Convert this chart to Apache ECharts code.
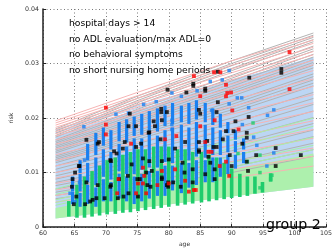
<!DOCTYPE html>
<html>
<head>
<meta charset="utf-8">
<script src="https://cdn.jsdelivr.net/npm/echarts@6/dist/echarts.min.js"></script>
<style>
html, body { margin: 0; padding: 0; background: #fff; }
#main { width: 335px; height: 252px; }
</style>
</head>
<body>
<div id="main"></div>
<script>
// ages at which every risk curve is read
var curveAges = [62, 75, 90, 103];

// filled bundles (lower / upper edge at curveAges)
var bundleLo = [0.0016, 0.0034, 0.0056, 0.0074];
var blueHi = [0.0168, 0.0215, 0.0268, 0.0312];
var greenHi = [0.0035, 0.0065, 0.0105, 0.0135];

// individual curves, values at curveAges
var pinkCurves = [
  [0.0195, 0.0247, 0.0305, 0.0350],
  [0.0191, 0.0241, 0.0297, 0.0343],
  [0.0187, 0.0236, 0.0290, 0.0337],
  [0.0183, 0.0230, 0.0283, 0.0330],
  [0.0179, 0.0225, 0.0276, 0.0322],
  [0.0175, 0.0220, 0.0270, 0.0316],
  [0.0171, 0.0214, 0.0262, 0.0306],
  [0.0167, 0.0208, 0.0255, 0.0298],
  [0.0160, 0.0200, 0.0245, 0.0287],
  [0.0152, 0.0190, 0.0233, 0.0272],
  [0.0143, 0.0180, 0.0221, 0.0258],
  [0.0133, 0.0168, 0.0207, 0.0243],
  [0.0122, 0.0156, 0.0193, 0.0228],
  [0.0112, 0.0144, 0.0180, 0.0212],
  [0.0100, 0.0130, 0.0164, 0.0195],
  [0.0090, 0.0118, 0.0150, 0.0179],
  [0.0080, 0.0106, 0.0136, 0.0163],
  [0.0068, 0.0092, 0.0120, 0.0145],
  [0.0058, 0.0080, 0.0106, 0.0130],
  [0.0046, 0.0066, 0.0090, 0.0112]
];
var grayCurves = [
  [0.0180, 0.0240, 0.0305, 0.0356],
  [0.0176, 0.0236, 0.0300, 0.0352],
  [0.0172, 0.0232, 0.0296, 0.0348],
  [0.0168, 0.0228, 0.0291, 0.0344],
  [0.0165, 0.0224, 0.0287, 0.0340],
  [0.0160, 0.0216, 0.0278, 0.0332],
  [0.0157, 0.0212, 0.0273, 0.0327],
  [0.0154, 0.0208, 0.0268, 0.0323],
  [0.0151, 0.0204, 0.0263, 0.0317],
  [0.0148, 0.0200, 0.0258, 0.0312],
  [0.0145, 0.0196, 0.0253, 0.0307],
  [0.0142, 0.0193, 0.0249, 0.0302],
  [0.0139, 0.0189, 0.0245, 0.0297],
  [0.0136, 0.0185, 0.0240, 0.0292],
  [0.0130, 0.0177, 0.0230, 0.0281],
  [0.0127, 0.0173, 0.0225, 0.0276],
  [0.0124, 0.0169, 0.0220, 0.0270],
  [0.0121, 0.0165, 0.0215, 0.0264],
  [0.0118, 0.0161, 0.0210, 0.0259],
  [0.0112, 0.0153, 0.0200, 0.0247],
  [0.0106, 0.0145, 0.0190, 0.0236],
  [0.0100, 0.0137, 0.0180, 0.0225],
  [0.0094, 0.0129, 0.0170, 0.0213],
  [0.0088, 0.0121, 0.0160, 0.0201],
  [0.0082, 0.0113, 0.0150, 0.0190],
  [0.0076, 0.0105, 0.0140, 0.0178],
  [0.0070, 0.0097, 0.0130, 0.0166],
  [0.0064, 0.0089, 0.0120, 0.0154],
  [0.0058, 0.0081, 0.0110, 0.0142],
  [0.0052, 0.0073, 0.0100, 0.0130]
];
var blueCurves = [
  [0.0178, 0.0222, 0.0270, 0.0305],
  [0.0173, 0.0218, 0.0268, 0.0310]
];
var greenCurves = [
  [0.0050, 0.0085, 0.0130, 0.0165],
  [0.0060, 0.0095, 0.0145, 0.0185],
  [0.0045, 0.0078, 0.0118, 0.0150],
  [0.0070, 0.0110, 0.0160, 0.0200],
  [0.0040, 0.0072, 0.0110, 0.0142]
];

// columns of stacked points: [age, lowest, highest]
var greenColumns = [
  [64.1, 0.0022, 0.0045], [65.4, 0.0020, 0.0075], [66.6, 0.0020, 0.0090],
  [67.8, 0.0022, 0.0100], [69.0, 0.0024, 0.0110], [70.2, 0.0026, 0.0120],
  [71.5, 0.0027, 0.0125], [72.7, 0.0029, 0.0130], [73.9, 0.0030, 0.0135],
  [75.1, 0.0032, 0.0140], [76.3, 0.0034, 0.0140], [77.6, 0.0036, 0.0145],
  [78.8, 0.0038, 0.0145], [80.0, 0.0040, 0.0145], [81.4, 0.0042, 0.0140],
  [82.6, 0.0044, 0.0140], [83.8, 0.0046, 0.0135], [85.2, 0.0048, 0.0135],
  [86.4, 0.0050, 0.0130], [87.6, 0.0052, 0.0125], [88.8, 0.0054, 0.0115],
  [90.0, 0.0056, 0.0105], [91.3, 0.0058, 0.0095], [92.5, 0.0060, 0.0090],
  [93.7, 0.0064, 0.0090], [94.9, 0.0066, 0.0080], [96.2, 0.0086, 0.0096]
];
var blueColumns = [
  [64.7, 0.0045, 0.0062], [64.7, 0.0068, 0.0080], [64.7, 0.0084, 0.0090],
  [65.9, 0.0040, 0.0060], [65.9, 0.0068, 0.0095], [65.9, 0.0102, 0.0120],
  [67.1, 0.0045, 0.0075], [67.1, 0.0085, 0.0115], [67.1, 0.0125, 0.0150],
  [68.4, 0.0040, 0.0070], [68.4, 0.0080, 0.0125], [68.4, 0.0135, 0.0170],
  [69.6, 0.0050, 0.0085], [69.6, 0.0095, 0.0140], [69.6, 0.0152, 0.0180],
  [70.8, 0.0050, 0.0080], [70.8, 0.0090, 0.0135], [70.8, 0.0145, 0.0175],
  [72.1, 0.0055, 0.0095], [72.1, 0.0105, 0.0150], [72.1, 0.0160, 0.0190],
  [73.3, 0.0050, 0.0090], [73.3, 0.0100, 0.0145], [73.3, 0.0158, 0.0195],
  [74.5, 0.0045, 0.0090], [74.5, 0.0100, 0.0160], [74.5, 0.0170, 0.0200],
  [75.7, 0.0050, 0.0095], [75.7, 0.0108, 0.0160], [75.7, 0.0172, 0.0205],
  [76.9, 0.0055, 0.0100], [76.9, 0.0112, 0.0170], [76.9, 0.0180, 0.0210],
  [78.2, 0.0060, 0.0100], [78.2, 0.0112, 0.0165], [78.2, 0.0178, 0.0215],
  [79.4, 0.0060, 0.0110], [79.4, 0.0122, 0.0175], [79.4, 0.0188, 0.0220],
  [80.6, 0.0070, 0.0110], [80.6, 0.0120, 0.0180], [80.6, 0.0192, 0.0225],
  [82.0, 0.0065, 0.0115], [82.0, 0.0125, 0.0185], [82.0, 0.0195, 0.0220],
  [83.2, 0.0075, 0.0115], [83.2, 0.0125, 0.0180], [83.2, 0.0192, 0.0225],
  [84.4, 0.0080, 0.0120], [84.4, 0.0132, 0.0190], [84.4, 0.0200, 0.0230],
  [85.8, 0.0085, 0.0120], [85.8, 0.0130, 0.0185], [85.8, 0.0195, 0.0225],
  [87.0, 0.0085, 0.0125], [87.0, 0.0135, 0.0180], [87.0, 0.0190, 0.0215],
  [88.2, 0.0095, 0.0125], [88.2, 0.0135, 0.0175], [88.2, 0.0185, 0.0205],
  [89.4, 0.0100, 0.0130], [89.4, 0.0140, 0.0165], [89.4, 0.0175, 0.0190],
  [90.6, 0.0110, 0.0130], [90.6, 0.0140, 0.0155], [90.6, 0.0163, 0.0175],
  [91.9, 0.0120, 0.0135], [91.9, 0.0145, 0.0160]
];

// single points: [age, risk]
var greenPoints = [
  [93.4, 0.0191], [94.5, 0.0132], [96.4, 0.0095], [94.5, 0.0100], [96.2, 0.0088],
  [94.5, 0.0072], [92.5, 0.0120], [91.0, 0.0135]
];
var bluePoints = [
  [89.6, 0.0287], [80.5, 0.0246], [86.6, 0.0267], [90.9, 0.0237], [91.6, 0.0237],
  [96.7, 0.0215], [92.7, 0.0219], [71.6, 0.0207], [73.6, 0.0209], [66.5, 0.0184],
  [95.7, 0.0205], [96.7, 0.0136], [95.6, 0.0112], [91.7, 0.0188], [80.5, 0.0196],
  [80.5, 0.0188], [80.5, 0.0179], [86.8, 0.0214], [89.6, 0.0226], [64.3, 0.0062],
  [65.1, 0.0047], [65.8, 0.0082], [66.6, 0.0123], [82.0, 0.0240], [84.5, 0.0250],
  [88.5, 0.0270], [93.5, 0.0165], [94.0, 0.0150], [76.0, 0.0225], [78.0, 0.0230]
];
var blackPoints = [
  [68.7, 0.0153], [64.7, 0.0088], [64.9, 0.0042], [67.5, 0.0047], [66.7, 0.0042],
  [71.3, 0.0139], [70.8, 0.0121], [72.1, 0.0088], [73.6, 0.0185], [74.8, 0.0185],
  [76.9, 0.0174], [78.7, 0.0161], [74.1, 0.0115], [75.4, 0.0088], [76.9, 0.0121],
  [69.8, 0.0053], [68.5, 0.0053], [70.8, 0.0077], [79.9, 0.0082], [79.9, 0.0074],
  [78.9, 0.0091], [77.1, 0.0074], [75.1, 0.0056], [72.8, 0.0056], [65.3, 0.0056],
  [64.6, 0.0074], [65.1, 0.0100], [65.7, 0.0112], [66.9, 0.0082], [67.9, 0.0050],
  [68.7, 0.0077], [70.7, 0.0123], [70.7, 0.0074], [71.7, 0.0135], [71.9, 0.0053],
  [73.0, 0.0156], [73.5, 0.0094], [73.6, 0.0062], [75.0, 0.0088], [75.6, 0.0153],
  [75.9, 0.0126], [76.4, 0.0100], [76.6, 0.0077], [78.9, 0.0121], [78.9, 0.0088],
  [80.0, 0.0124], [81.0, 0.0144], [82.5, 0.0100], [83.8, 0.0106], [83.8, 0.0082],
  [84.8, 0.0138], [84.8, 0.0156], [86.1, 0.0158], [86.6, 0.0118], [87.3, 0.0088],
  [87.6, 0.0147], [88.6, 0.0161], [81.9, 0.0074], [79.7, 0.0077], [77.3, 0.0103],
  [82.6, 0.0156], [84.8, 0.0141], [86.3, 0.0129], [87.1, 0.0147], [89.1, 0.0176],
  [90.3, 0.0176], [92.4, 0.0173], [92.4, 0.0164], [91.7, 0.0153], [92.4, 0.0120],
  [92.6, 0.0103], [90.0, 0.0112], [89.7, 0.0132], [87.3, 0.0106], [80.7, 0.0082],
  [82.2, 0.0118], [85.8, 0.0097], [97.0, 0.0112], [101.0, 0.0132], [97.0, 0.0145],
  [93.9, 0.0132], [97.9, 0.0290], [97.9, 0.0283], [92.8, 0.0274], [87.8, 0.0285],
  [83.9, 0.0263], [83.9, 0.0259], [79.8, 0.0252], [82.8, 0.0247], [85.8, 0.0254],
  [85.8, 0.0250], [87.8, 0.0229], [90.6, 0.0194], [92.7, 0.0202], [78.8, 0.0217],
  [78.8, 0.0211], [84.8, 0.0215], [85.0, 0.0208], [87.6, 0.0211], [78.9, 0.0196],
  [79.7, 0.0211], [73.8, 0.0208], [77.6, 0.0194], [66.9, 0.0160], [68.9, 0.0156],
  [76.8, 0.0173], [77.8, 0.0185], [74.8, 0.0147], [72.7, 0.0144], [65.8, 0.0112]
];
var redPoints = [
  [84.0, 0.0277], [99.2, 0.0321], [99.2, 0.0253], [88.2, 0.0284], [87.2, 0.0284],
  [85.0, 0.0240], [89.1, 0.0261], [89.3, 0.0246], [89.9, 0.0247], [90.1, 0.0214],
  [70.0, 0.0219], [70.0, 0.0188], [87.3, 0.0196], [89.1, 0.0240], [70.0, 0.0170],
  [74.0, 0.0153], [72.0, 0.0088], [74.8, 0.0062], [71.8, 0.0062], [75.9, 0.0109],
  [75.9, 0.0080], [78.2, 0.0077], [78.9, 0.0103], [79.4, 0.0161], [76.1, 0.0094],
  [75.1, 0.0080], [81.0, 0.0106], [80.0, 0.0080], [83.2, 0.0065], [84.3, 0.0068],
  [85.8, 0.0156], [86.3, 0.0138], [88.1, 0.0112], [89.1, 0.0120], [76.4, 0.0062],
  [81.2, 0.0167], [85.0, 0.0185], [91.1, 0.0179], [86.8, 0.0138], [84.0, 0.0068],
  [89.6, 0.0094], [82.6, 0.0085]
];

var notes = [
  'hospital days > 14',
  'no ADL evaluation/max ADL=0',
  'no behavioral symptoms',
  'no short nursing home periods'
];
var groupLabel = 'group 2';

var FONT = 'DejaVu Sans, sans-serif';

function bandSeries(lo, hi, color) {
  return {
    type: 'custom',
    silent: true,
    data: [[curveAges[0], lo[0]]],
    renderItem: function (params, api) {
      var pts = [];
      for (var i = 0; i < curveAges.length; i++) pts.push(api.coord([curveAges[i], hi[i]]));
      for (var j = curveAges.length - 1; j >= 0; j--) pts.push(api.coord([curveAges[j], lo[j]]));
      return { type: 'polygon', shape: { points: pts }, style: { fill: color } };
    }
  };
}

function curveSeries(curves, color) {
  return {
    type: 'lines',
    coordinateSystem: 'cartesian2d',
    polyline: true,
    silent: true,
    lineStyle: { color: color, width: 1, opacity: 1 },
    data: curves.map(function (c) {
      return { coords: curveAges.map(function (a, i) { return [a, c[i]] }) };
    })
  };
}

function columnSeries(cols, color, w) {
  return {
    type: 'custom',
    silent: true,
    encode: { x: 0, y: [1, 2] },
    data: cols,
    renderItem: function (params, api) {
      var top = api.coord([api.value(0), api.value(2)]);
      var bot = api.coord([api.value(0), api.value(1)]);
      return {
        type: 'rect',
        shape: { x: top[0] - w / 2, y: top[1] - 1.5, width: w, height: bot[1] - top[1] + 3 },
        style: { fill: color }
      };
    }
  };
}

function pointSeries(pts, color, size) {
  return {
    type: 'scatter',
    silent: true,
    symbol: 'rect',
    symbolSize: size,
    itemStyle: { color: color },
    data: pts
  };
}

var myChart = echarts.init(document.getElementById('main'));

var option = {
  animation: false,
  grid: { left: 36, right: 3, top: 9, bottom: 15 },
  xAxis: {
    type: 'value',
    min: 60,
    max: 105,
    interval: 5,
    name: 'age',
    nameLocation: 'middle',
    nameGap: 10,
    nameTextStyle: { fontFamily: FONT, fontSize: 6, color: '#333' },
    axisLine: { lineStyle: { color: '#222', width: 1.5 } },
    axisTick: { inside: true, length: 3, lineStyle: { color: '#222' } },
    axisLabel: { fontFamily: FONT, fontSize: 6.3, color: '#333', margin: 3 },
    splitLine: { show: true, lineStyle: { color: '#777', width: 1, type: [1, 2.5] } }
  },
  yAxis: {
    type: 'value',
    min: 0,
    max: 0.04,
    interval: 0.01,
    name: 'risk',
    nameLocation: 'middle',
    nameGap: 29,
    nameTextStyle: { fontFamily: FONT, fontSize: 6, color: '#333' },
    axisLine: { show: true, lineStyle: { color: '#222', width: 1.5 } },
    axisTick: { show: true, inside: true, length: 3, lineStyle: { color: '#222' } },
    axisLabel: {
      fontFamily: FONT, fontSize: 6.3, color: '#333', margin: 4,
      formatter: function (v) { return v === 0 ? '0' : v.toFixed(2) }
    },
    splitLine: { show: true, lineStyle: { color: '#777', width: 1, type: [1, 2.5] } }
  },
  graphic: notes.map(function (t, i) {
    return {
      type: 'text',
      x: 69,
      y: 24 + i * 15.5,
      z: 100,
      style: { text: t, fontFamily: FONT, fontSize: 9.2, fill: '#000', verticalAlign: 'middle' }
    };
  }).concat([{
    type: 'text',
    x: 266,
    y: 225,
    z: 100,
    style: { text: groupLabel, fontFamily: FONT, fontSize: 14.2, fill: '#000', verticalAlign: 'middle' }
  }]),
  series: [
    bandSeries(bundleLo, blueHi, '#bcd6f4'),
    bandSeries(bundleLo, greenHi, '#adf0ad'),
    curveSeries(blueCurves, '#b4d2f2'),
    curveSeries(grayCurves, '#b3b3b3'),
    curveSeries(pinkCurves, '#f6b4b4'),
    curveSeries(greenCurves, '#a8eea8'),
    columnSeries(greenColumns, '#1fcc6c', 3.6),
    columnSeries(blueColumns, '#1a80f0', 3.2),
    pointSeries(greenPoints, '#1fcc6c', 3.5),
    pointSeries(bluePoints, '#1a80f0', 3.5),
    pointSeries(blackPoints, '#000', 3.8),
    pointSeries(redPoints, '#ff0000', 3.8)
  ]
};

myChart.setOption(option);
</script>
</body>
</html>
